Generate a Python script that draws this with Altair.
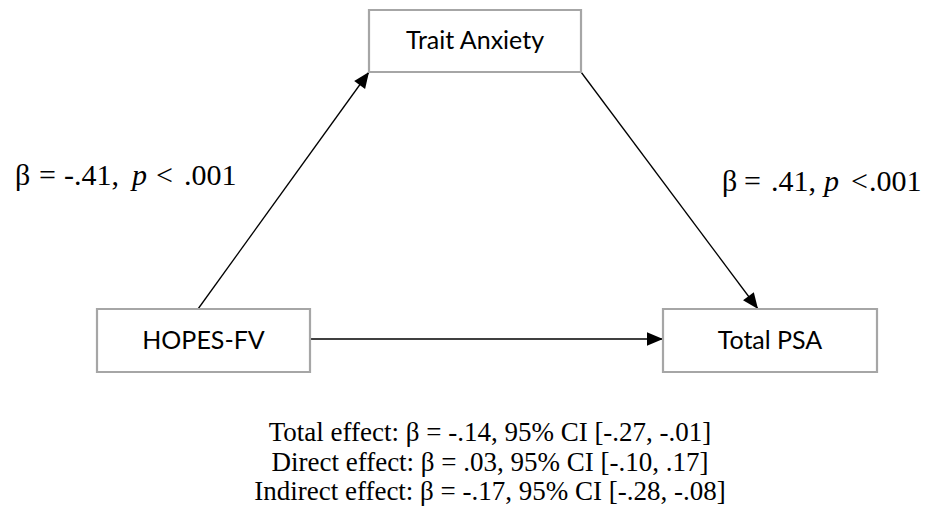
import altair as alt
import pandas as pd
import numpy as np

# Boxes (reference pixel coordinates)
box_labels = ["Trait Anxiety", "HOPES-FV", "Total PSA"]
box_x1 = [369, 97, 663]
box_x2 = [581, 310, 877]
box_y1 = [10, 309, 309]
box_y2 = [72, 372, 372]

# Arrows: start -> end (tip)
arrow_x1 = [198, 581, 310]
arrow_y1 = [309, 72, 339]
arrow_x2 = [369, 758, 663]
arrow_y2 = [72, 309, 339]

# Path labels, split into pieces so that "p" can be italic
seg_text = ["β", "=", "-.41,", "p", "<", ".001",
            "β", "=", ".41,", "p", "<", ".001"]
seg_italic = [False, False, False, True, False, False,
              False, False, False, True, False, False]
seg_x = [15, 39, 64, 132, 156, 184,
         722, 744, 771, 824, 851, 869]
seg_y = [176] * 6 + [182] * 6

# Effects summary
effect_lines = [
    "Total effect: β = -.14, 95% CI [-.27, -.01]",
    "Direct effect: β = .03, 95% CI [-.10, .17]",
    "Indirect effect: β = -.17, 95% CI [-.28, -.08]",
]
effect_x = [490, 490, 490]
effect_y = [433, 463, 492]

boxes = pd.DataFrame({"label": box_labels, "x1": box_x1, "x2": box_x2,
                      "y1": box_y1, "y2": box_y2})
boxes["cx"] = (boxes.x1 + boxes.x2) / 2
boxes["cy"] = (boxes.y1 + boxes.y2) / 2

arrows = pd.DataFrame({"x1": arrow_x1, "y1": arrow_y1, "x2": arrow_x2, "y2": arrow_y2})
dx = arrows.x2 - arrows.x1
dy = arrows.y2 - arrows.y1
arrows["angle"] = (np.degrees(np.arctan2(dx, -dy)) + 360) % 360

segs = pd.DataFrame({"t": seg_text, "x": seg_x, "y": seg_y, "it": seg_italic})
effects = pd.DataFrame({"t": effect_lines, "x": effect_x, "y": effect_y})

W, H = 914, 515
xs = alt.Scale(domain=[8, 8 + W])
ys = alt.Scale(domain=[8, 8 + H], reverse=True)

rect = alt.Chart(boxes).mark_rect(fill="white", stroke="#a6a6a6", strokeWidth=2.2).encode(
    x=alt.X("x1:Q", scale=xs, axis=None), x2="x2:Q",
    y=alt.Y("y1:Q", scale=ys, axis=None), y2="y2:Q",
)
box_text = alt.Chart(boxes).mark_text(font="Lato", fontSize=25, color="#000000",
                                      align="center", baseline="middle").encode(
    x=alt.X("cx:Q", scale=xs, axis=None),
    y=alt.Y("cy:Q", scale=ys, axis=None),
    text="label:N",
)
lines = alt.Chart(arrows).mark_rule(color="black", strokeWidth=1.3).encode(
    x=alt.X("x1:Q", scale=xs, axis=None), x2="x2:Q",
    y=alt.Y("y1:Q", scale=ys, axis=None), y2="y2:Q",
)
heads = alt.Chart(arrows).mark_point(
    shape="M0,0L-0.42,1L0.42,1Z", filled=True, color="black", opacity=1, size=1024, strokeWidth=0
).encode(
    x=alt.X("x2:Q", scale=xs, axis=None),
    y=alt.Y("y2:Q", scale=ys, axis=None),
    angle=alt.Angle("angle:Q", scale=None),
)
seg_normal = alt.Chart(segs).transform_filter("!datum.it").mark_text(
    font="Liberation Serif", fontSize=30, color="black", align="left", baseline="middle"
).encode(
    x=alt.X("x:Q", scale=xs, axis=None),
    y=alt.Y("y:Q", scale=ys, axis=None),
    text="t:N",
)
seg_ital = alt.Chart(segs).transform_filter("datum.it").mark_text(
    font="Liberation Serif", fontSize=30, fontStyle="italic", color="black",
    align="left", baseline="middle"
).encode(
    x=alt.X("x:Q", scale=xs, axis=None),
    y=alt.Y("y:Q", scale=ys, axis=None),
    text="t:N",
)
eff_lbl = alt.Chart(effects).mark_text(font="Liberation Serif", fontSize=27, color="black",
                                       align="center", baseline="middle").encode(
    x=alt.X("x:Q", scale=xs, axis=None),
    y=alt.Y("y:Q", scale=ys, axis=None),
    text="t:N",
)

chart = alt.layer(lines, heads, rect, box_text, seg_normal, seg_ital, eff_lbl).properties(
    width=W, height=H, padding=0, background="white"
).configure_view(stroke=None)

chart.save("out.html", embed_options={"renderer": "svg", "actions": False})
